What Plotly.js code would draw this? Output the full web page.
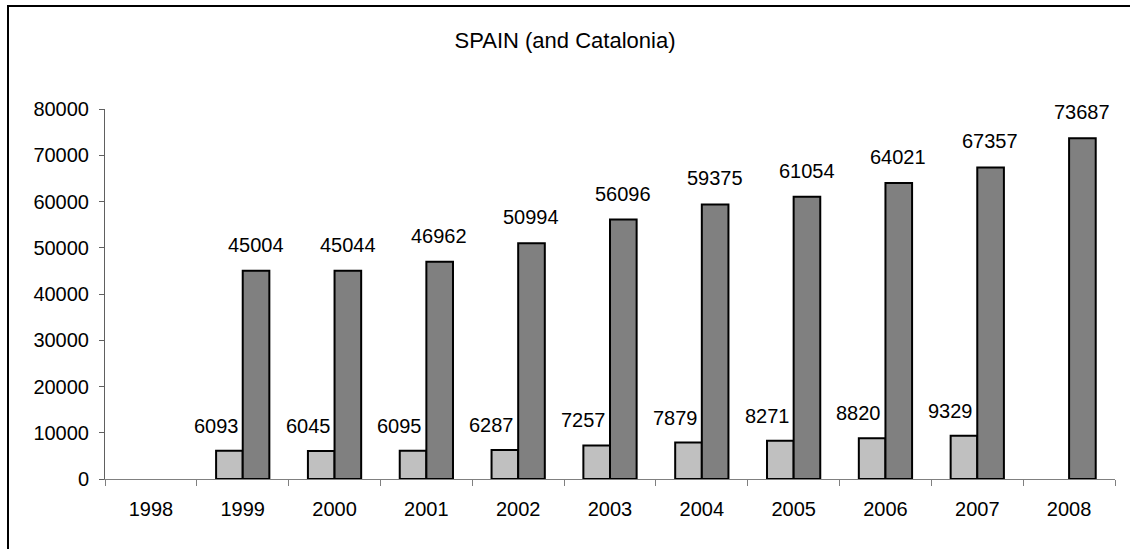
<!DOCTYPE html>
<html>
<head>
<meta charset="utf-8">
<script src="https://cdn.plot.ly/plotly-3.0.1.min.js"></script>
<style>
  html, body { margin: 0; padding: 0; background: #fff; }
  #wrap { position: relative; width: 1130px; height: 549px; overflow: hidden; }
  #chart { position: absolute; left: 0; top: 0; width: 1130px; height: 549px; }
  #frame { position: absolute; left: 7px; top: 5px; width: 1200px; height: 700px;
           border-left: 2px solid #000; border-top: 2px solid #000; pointer-events: none; }
</style>
</head>
<body>
<div id="wrap">
  <div id="chart"></div>
  <div id="frame"></div>
</div>
<script>
const years = ['1998','1999','2000','2001','2002','2003','2004','2005','2006','2007','2008'];
const catalonia = [null, 6093, 6045, 6095, 6287, 7257, 7879, 8271, 8820, 9329, null];
const spain = [null, 45004, 45044, 46962, 50994, 56096, 59375, 61054, 64021, 67357, 73687];
const yTicks = [0, 10000, 20000, 30000, 40000, 50000, 60000, 70000, 80000];

const FONT = 'Arial, "Liberation Sans", sans-serif';

const traces = [
  { type: 'bar', name: 'Catalonia', x: years, y: catalonia,
    marker: { color: '#C0C0C0', line: { color: '#000', width: 2 } }, hoverinfo: 'x+y' },
  { type: 'bar', name: 'Spain', x: years, y: spain,
    marker: { color: '#808080', line: { color: '#000', width: 2 } }, hoverinfo: 'x+y' }
];

// annotations placed by category index on the category axis
const annotations = [];
years.forEach((yr, i) => {
  if (catalonia[i] != null) {
    annotations.push({ x: i, y: catalonia[i], text: String(catalonia[i]), showarrow: false,
      xanchor: 'right', yanchor: 'bottom', xshift: -2, yshift: 12,
      font: { family: FONT, size: 20, color: '#000' } });
  }
  if (spain[i] != null) {
    annotations.push({ x: i, y: spain[i], text: String(spain[i]), showarrow: false,
      xanchor: 'center', yanchor: 'bottom', xshift: 13, yshift: 13,
      font: { family: FONT, size: 20, color: '#000' } });
  }
});

const layout = {
  width: 1130, height: 549,
  margin: { l: 105, r: 15, t: 109, b: 70 },
  paper_bgcolor: 'rgba(0,0,0,0)', plot_bgcolor: 'rgba(0,0,0,0)',
  font: { family: FONT, size: 20, color: '#000' },
  title: { text: 'SPAIN (and Catalonia)', font: { family: FONT, size: 22, color: '#000' },
           x: 0.5, xanchor: 'center', y: 1 - 40/549, yanchor: 'middle' },
  showlegend: false,
  barmode: 'group', bargap: 0.42, bargroupgap: 0,
  xaxis: { type: 'category', range: [-0.5, 10.5], showgrid: false, zeroline: false,
           showline: true, linecolor: '#808080', linewidth: 1,
           ticks: 'outside', tickson: 'boundaries', ticklen: 6, tickcolor: '#808080', tickwidth: 1,
           ticklabelstandoff: 12,
           tickfont: { family: FONT, size: 20, color: '#000' } },
  yaxis: { range: [0, 80000], tickvals: yTicks, ticktext: yTicks.map(String),
           showgrid: false, zeroline: false,
           showline: true, linecolor: '#606060', linewidth: 1,
           ticks: 'outside', ticklen: 5, tickcolor: '#606060', tickwidth: 1,
           ticklabelstandoff: 6,
           tickfont: { family: FONT, size: 20, color: '#000' } },
  annotations: annotations
};

Plotly.newPlot('chart', traces, layout, { displayModeBar: false, staticPlot: true });
</script>
</body>
</html>
